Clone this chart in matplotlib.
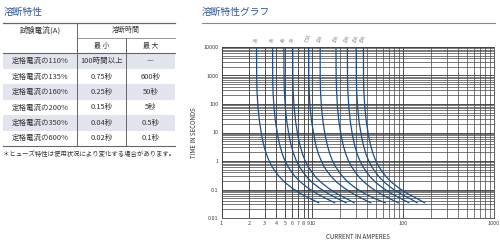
import numpy as np
import matplotlib
matplotlib.use("Agg")
from matplotlib import pyplot as plt
from matplotlib.ticker import FixedLocator, LogLocator, NullFormatter

plt.rcParams['font.family'] = ['Noto Sans CJK JP', 'DejaVu Sans']

# table data
row_labels = ['定格電流の110%', '定格電流の135%', '定格電流の160%',
              '定格電流の200%', '定格電流の350%', '定格電流の600%']
min_times = ['100時間以上', '0.75秒', '0.25秒', '0.15秒', '0.04秒', '0.02秒']
max_times = ['—', '600秒', '50秒', '5秒', '0.5秒', '0.1秒']

# fuse curves (time in seconds, current in amperes)
curve_labels = ['2A', '3A', '4A', '5A', '7.5A', '10A', '15A', '20A', '25A', '30A']
times = [10000, 830, 275, 78, 24, 8.3, 3.7, 1.86, 1.11, 0.68, 0.43, 0.27,
         0.174, 0.11, 0.069, 0.047, 0.034]
c_2a = [2.43, 2.44, 2.46, 2.52, 2.62, 2.76, 2.91, 3.10, 3.30, 3.56, 3.90, 4.38,
        5.02, 6.04, 7.60, 9.58, 11.8]
c_3a = [3.65, 3.66, 3.69, 3.78, 3.93, 4.14, 4.37, 4.65, 4.94, 5.33, 5.85, 6.56,
        7.54, 9.06, 11.4, 14.4, 17.7]
c_4a = [4.86, 4.88, 4.92, 5.04, 5.24, 5.52, 5.82, 6.20, 6.59, 7.11, 7.80, 8.75,
        10.0, 12.1, 15.2, 19.2, 23.6]
c_5a = [6.08, 6.10, 6.15, 6.30, 6.55, 6.90, 7.28, 7.75, 8.24, 8.89, 9.75, 10.9,
        12.6, 15.1, 19.0, 24.0, 29.0]
c_7a = [9.12, 9.14, 9.23, 9.44, 9.82, 10.4, 10.9, 11.6, 12.4, 13.3, 14.6, 16.4,
        18.8, 22.7, 28.5, 35.9, 44.2]
c_10a = [12.2, 12.2, 12.3, 12.6, 13.1, 13.8, 14.6, 15.5, 16.5, 17.8, 19.5, 21.9,
         25.1, 30.2, 38.5, 49.5, 64.0]
c_15a = [18.2, 18.3, 18.5, 18.9, 19.6, 20.7, 21.8, 23.2, 24.7, 26.7, 29.3, 32.8,
         37.7, 45.3, 57.0, 71.9, 88.5]
c_20a = [24.3, 24.4, 24.6, 25.2, 26.2, 27.6, 29.1, 31.0, 33.0, 35.6, 39.0, 43.8,
         50.2, 60.4, 76.0, 95.8, 116]
c_25a = [30.4, 30.5, 30.8, 31.5, 32.7, 34.5, 36.4, 38.7, 41.2, 44.5, 48.8, 54.7,
         62.8, 75.5, 95.0, 120, 143]
c_30a = [36.5, 36.6, 36.9, 37.8, 39.3, 41.4, 43.7, 46.5, 49.4, 53.3, 58.5, 65.6,
         75.4, 90.6, 114, 144, 173]
curves = [c_2a, c_3a, c_4a, c_5a, c_7a, c_10a, c_15a, c_20a, c_25a, c_30a]

x_ticks = [1, 2, 3, 4, 5, 6, 7, 8, 9, 10, 100, 1000]
x_ticklabels = ['1', '2', '3', '4', '5', '6', '7', '8', '9', '10', '100', '1000']
y_ticks = [0.01, 0.1, 1, 10, 100, 1000, 10000]
y_ticklabels = ['0.01', '0.1', '1', '10', '100', '1000', '10000']

title_col = '#2f5597'
txt_col = '#333333'
shade = '#e3e5ee'

fig = plt.figure(figsize=(5, 2.43), dpi=100)

# background axes in pixel coordinates for titles and table
bg = fig.add_axes([0, 0, 1, 1])
bg.set_xlim(0, 500)
bg.set_ylim(243, 0)
bg.axis('off')

bg.text(4, 12, '溶断特性', fontsize=7, color=title_col, ha='left', va='center')
bg.text(202, 12, '溶断特性グラフ', fontsize=7, color=title_col, ha='left', va='center')
bg.plot([202, 495], [22.7, 22.7], color='#888888', lw=0.8)

# table
tl, tr = 3, 175
c1, c2 = 77, 126
top, mid, head_bot = 22.7, 37.7, 53.5
rh = 15.4
for i, (lab, mn, mx) in enumerate(zip(row_labels, min_times, max_times)):
    y0 = head_bot + i * rh
    if i % 2 == 0:
        bg.fill_between([tl, tr], y0, y0 + rh, color=shade, lw=0, zorder=0)
    yc = y0 + rh / 2
    bg.text((tl + c1) / 2, yc, lab, fontsize=5.4, color=txt_col, ha='center', va='center')
    bg.text((c1 + c2) / 2, yc, mn, fontsize=5.4, color=txt_col, ha='center', va='center')
    bg.text((c2 + tr) / 2, yc, mx, fontsize=5.4, color=txt_col, ha='center', va='center')
bottom = head_bot + len(row_labels) * rh

bg.plot([tl, tr], [top, top], color='#666666', lw=0.9)
bg.plot([c1, tr], [mid, mid], color='#888888', lw=0.6)
bg.plot([tl, tr], [head_bot, head_bot], color='#666666', lw=0.8)
bg.plot([tl, tr], [bottom, bottom], color='#666666', lw=0.8)
bg.plot([c1, c1], [top, bottom], color='#666666', lw=0.7)
bg.plot([c2, c2], [mid, bottom], color='#666666', lw=0.7)

bg.text((tl + c1) / 2, 30, '試験電流(A)', fontsize=5.6, color=txt_col, ha='center', va='center')
bg.text((c1 + tr) / 2, 30, '溶断時間', fontsize=5, color=txt_col, ha='center', va='center')
bg.text((c1 + c2) / 2, 46, '最 小', fontsize=5, color=txt_col, ha='center', va='center')
bg.text((c2 + tr) / 2, 46, '最 大', fontsize=5, color=txt_col, ha='center', va='center')
bg.text(3, 154, '＊ヒューズ特性は使用状況により変化する場合があります。',
        fontsize=4.6, color=txt_col, ha='left', va='center')

# chart
ax = fig.add_axes([221.5 / 500, 25 / 243, 272.5 / 500, 171 / 243])
ax.set_xscale('log')
ax.set_yscale('log')
ax.set_xlim(1, 1000)
ax.set_ylim(0.01, 10000)

for lab, cur in zip(curve_labels, curves):
    ax.plot(cur, times, color='#1b4f8c', lw=0.9, zorder=3, solid_capstyle='round')
    ax.annotate(lab, xy=(cur[0], times[0]), xytext=(0, 2.5), textcoords='offset points',
                rotation=65, fontsize=3.2, color='#777777', ha='center', va='bottom',
                annotation_clip=False)

ax.xaxis.set_major_locator(FixedLocator(x_ticks))
ax.xaxis.set_ticklabels(x_ticklabels)
ax.xaxis.set_minor_locator(LogLocator(base=10, subs=np.arange(2, 10), numticks=20))
ax.xaxis.set_minor_formatter(NullFormatter())
ax.yaxis.set_major_locator(FixedLocator(y_ticks))
ax.yaxis.set_ticklabels(y_ticklabels)
ax.yaxis.set_minor_locator(LogLocator(base=10, subs=np.arange(2, 10), numticks=20))
ax.yaxis.set_minor_formatter(NullFormatter())

ax.grid(which='major', color='#333333', lw=0.6)
ax.grid(which='minor', color='#444444', lw=0.5)
ax.tick_params(which='both', length=0, labelsize=4, labelcolor='#444444', pad=2)
for s in ax.spines.values():
    s.set_color('#444444')
    s.set_linewidth(0.6)

ax.set_xlabel('CURRENT IN AMPERES', fontsize=4.4, color=txt_col, labelpad=5)
ax.set_ylabel('TIME IN SECONDS', fontsize=4.4, color=txt_col, labelpad=4)

fig.savefig('out.png', dpi=100)
